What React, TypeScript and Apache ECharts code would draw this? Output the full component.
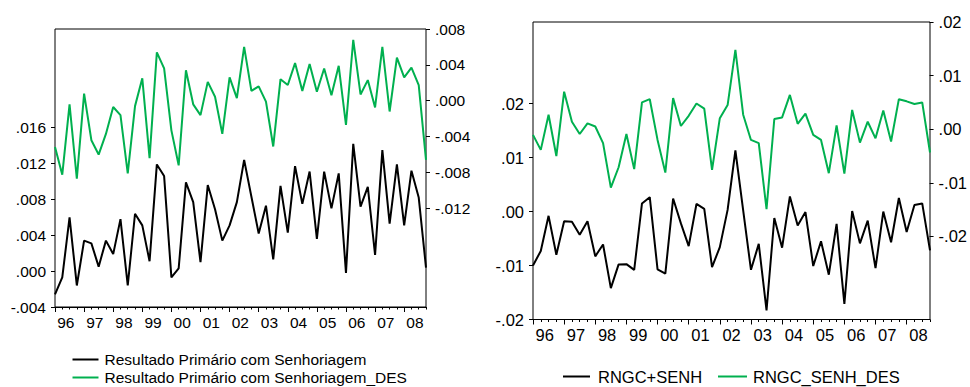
import React, { useEffect, useRef } from "react";
import * as echarts from "echarts";

// ---------- DATA ----------
const years = ["96", "97", "98", "99", "00", "01", "02", "03", "04", "05", "06", "07", "08"];
const quarterNames = ["Q1", "Q2", "Q3", "Q4"];
const quarters = years.flatMap((y) => quarterNames.map((q) => y + q));

const seriesLeftA = "Resultado Primário com Senhoriagem";
const seriesLeftB = "Resultado Primário com Senhoriagem_DES";
const seriesRightA = "RNGC+SENH";
const seriesRightB = "RNGC_SENH_DES";

const resultadoPrimario = [
  -0.0026, -0.0007, 0.006, -0.0016, 0.0034, 0.0031, 0.0005, 0.0034, 0.0019, 0.0058,
  -0.0016, 0.0064, 0.0051, 0.0011, 0.0119, 0.0106, -0.0007, 0.0003, 0.0099, 0.0077,
  0.001, 0.0096, 0.0069, 0.0034, 0.0051, 0.0077, 0.0124, 0.0083, 0.0042, 0.0073,
  0.0013, 0.0095, 0.0043, 0.0117, 0.0075, 0.0111, 0.0036, 0.0111, 0.007, 0.0109,
  -0.0002, 0.0142, 0.0072, 0.0094, 0.0018, 0.0135, 0.0053, 0.0119, 0.0051, 0.0112,
  0.0082, 0.0004,
];

const resultadoPrimarioDes = [
  -0.00515, -0.00825, -0.0004, -0.0087, 0.0008, -0.0044, -0.006, -0.0037, -0.0007, -0.0016,
  -0.0081, -0.0006, 0.0025, -0.0064, 0.0054, 0.0036, -0.0033, -0.0072, 0.0034, -0.0004,
  -0.0016, 0.0021, 0.00045, -0.0037, 0.0026, 0.0003, 0.006, 0.0011, 0.0016, -0.0001,
  -0.0051, 0.0024, 0.00175, 0.0042, 0.0011, 0.0041, 0.001, 0.0036, 0.0006, 0.0039,
  -0.0027, 0.0068, 0.0007, 0.0023, -0.00075, 0.006, -0.0012, 0.0048, 0.0026, 0.0037,
  0.00175, -0.0066,
];

const rngcSenh = [
  -0.01, -0.0073, -0.0008, -0.008, -0.0018, -0.0019, -0.0043, -0.0018, -0.0083, -0.0061,
  -0.0142, -0.0098, -0.00975, -0.0108, 0.0015, 0.00265, -0.0107, -0.0115, 0.0024, -0.0022,
  -0.0064, 0.0014, 0.0005, -0.0103, -0.0066, 0.0003, 0.0113, 0.0002, -0.0108, -0.006,
  -0.0183, -0.0012, -0.0067, 0.0028, -0.0026, -0.0001, -0.0101, -0.0055, -0.0117, -0.0023,
  -0.0171, 0.0001, -0.0059, -0.0017, -0.0105, 0.0, -0.0057, 0.0025, -0.0038, 0.0012,
  0.0015, -0.0072,
];

const rngcSenhDes = [
  -0.00105, -0.00385, 0.0027, -0.005, 0.007, 0.0014, -0.0009, 0.0011, 0.0005, -0.0026,
  -0.0109, -0.0071, -0.0009, -0.00745, 0.005, 0.0056, -0.002, -0.0081, 0.0058, 0.0006,
  0.0025, 0.0048, 0.00385, -0.0076, 0.00205, 0.0045, 0.0148, 0.0027, -0.002, -0.0026,
  -0.0149, 0.0019, 0.0022, 0.0064, 0.001, 0.0029, -0.00105, -0.002, -0.0082, 0.0007,
  -0.0083, 0.0036, -0.0025, 0.0014, -0.0017, 0.0035, -0.0023, 0.0056, 0.0052, 0.0047,
  0.005, -0.00435,
];

// axis ranges & labelled tick ranges
const leftPanelLeftRange = [-0.004, 0.027];
const leftPanelRightRange = [-0.023, 0.008];
const leftPanelLeftTicks = { min: -0.004, max: 0.016, step: 0.004 };
const leftPanelRightTicks = { min: -0.012, max: 0.008, step: 0.004 };

const rightPanelLeftRange = [-0.02, 0.0351];
const rightPanelRightRange = [-0.0355, 0.02];
const rightPanelLeftTicks = { min: -0.02, max: 0.02, step: 0.01 };
const rightPanelRightTicks = { min: -0.02, max: 0.02, step: 0.01 };

// ---------- STYLE ----------
const FONT = '"Liberation Sans", Arial, Helvetica, sans-serif';
const BLACK = "#000000";
const GREEN = "#00b04f";
const boxL = { left: 55, top: 29, width: 371, height: 278 };
const boxR = { left: 533, top: 22, width: 397, height: 297.5 };
const FS_LEFT = 15.5;
const FS_RIGHT = 16.5;

function fmt(decimals: number) {
  return (v: number) => {
    const s = Number(v).toFixed(decimals);
    return s.replace(/^(-?)0\./, "$1.");
  };
}

function labelGrid(box: any, range: number[], t: any) {
  const span = range[1] - range[0];
  const top = box.top + ((range[1] - t.max) / span) * box.height;
  const height = ((t.max - t.min) / span) * box.height;
  return { left: box.left, width: box.width, top, height, show: false };
}

export default function App() {
  const ref = useRef<HTMLDivElement>(null);

  useEffect(() => {
    if (!ref.current) return;
    const chart = echarts.init(ref.current, undefined, { renderer: "svg" });

    const mainX = (gridIndex: number, labelPad: number, fs: number) => ({
      type: "category",
      gridIndex,
      data: quarters,
      boundaryGap: false,
      position: "bottom",
      axisLine: { show: true, onZero: false, lineStyle: { color: BLACK, width: 1 } },
      axisTick: { show: true, interval: 0, length: 2.5, lineStyle: { color: BLACK, width: 1 } },
      axisLabel: {
        show: true,
        interval: (i: number) => i % 4 === 1,
        formatter: (v: string) => v.slice(0, 2),
        color: BLACK,
        fontSize: fs,
        fontFamily: FONT,
        margin: 7,
        padding: [0, 0, 0, labelPad],
      },
      splitLine: { show: false },
    });
    const majorX = (gridIndex: number) => ({
      type: "category",
      gridIndex,
      data: quarters,
      boundaryGap: false,
      position: "bottom",
      axisLine: { show: false, onZero: false },
      axisTick: { show: true, interval: (i: number) => i % 4 === 0, length: 5, lineStyle: { color: BLACK, width: 1 } },
      axisLabel: { show: false },
      splitLine: { show: false },
    });
    const hiddenX = (gridIndex: number) => ({ type: "value", gridIndex, show: false, min: 0, max: 1 });
    const hiddenY = (gridIndex: number, range: number[]) => ({
      type: "value",
      gridIndex,
      show: false,
      min: range[0],
      max: range[1],
      splitLine: { show: false },
    });
    const labelY = (gridIndex: number, position: string, t: any, decimals: number, fs: number) => ({
      type: "value",
      gridIndex,
      position,
      min: t.min,
      max: t.max,
      interval: t.step,
      axisLine: { show: false, onZero: false },
      axisTick: { show: true, length: 4, lineStyle: { color: BLACK, width: 1 } },
      axisLabel: { color: BLACK, fontSize: fs, fontFamily: FONT, margin: 9, formatter: fmt(decimals) },
      splitLine: { show: false },
    });

    const line = (name: string, data: number[], color: string, xAxisIndex: number, yAxisIndex: number) => ({
      type: "line",
      name,
      data,
      xAxisIndex,
      yAxisIndex,
      symbol: "none",
      showSymbol: false,
      color,
      lineStyle: { color, width: 2 },
      emphasis: { disabled: true },
    });

    const legendItem = (name: string, left: number, top: number, itemWidth: number, fs: number, textPad: number) => ({
      data: [name],
      orient: "horizontal",
      left,
      top,
      padding: 0,
      icon: "rect",
      itemWidth,
      itemHeight: 2,
      selectedMode: false,
      textStyle: { color: BLACK, fontSize: fs, fontFamily: FONT, padding: [0, 0, 0, textPad] },
    });

    chart.setOption({
      animation: false,
      textStyle: { fontFamily: FONT },
      grid: [
        { ...boxL, show: true, borderColor: BLACK, borderWidth: 1, backgroundColor: "transparent" },
        { ...boxR, show: true, borderColor: BLACK, borderWidth: 1, backgroundColor: "transparent" },
        labelGrid(boxL, leftPanelLeftRange, leftPanelLeftTicks),
        labelGrid(boxL, leftPanelRightRange, leftPanelRightTicks),
        labelGrid(boxR, rightPanelLeftRange, rightPanelLeftTicks),
        labelGrid(boxR, rightPanelRightRange, rightPanelRightTicks),
      ],
      xAxis: [
        mainX(0, 7, FS_LEFT),
        majorX(0),
        mainX(1, 8, FS_RIGHT),
        majorX(1),
        hiddenX(2),
        hiddenX(3),
        hiddenX(4),
        hiddenX(5),
      ],
      yAxis: [
        hiddenY(0, leftPanelLeftRange),
        hiddenY(0, leftPanelRightRange),
        hiddenY(1, rightPanelLeftRange),
        hiddenY(1, rightPanelRightRange),
        labelY(2, "left", leftPanelLeftTicks, 3, FS_LEFT),
        labelY(3, "right", leftPanelRightTicks, 3, FS_LEFT),
        labelY(4, "left", rightPanelLeftTicks, 2, FS_RIGHT),
        labelY(5, "right", rightPanelRightTicks, 2, FS_RIGHT),
      ],
      legend: [
        legendItem(seriesLeftA, 72.5, 351.5, 26, FS_LEFT, 1),
        legendItem(seriesLeftB, 72.5, 369.5, 26, FS_LEFT, 1),
        legendItem(seriesRightA, 563, 368, 27, FS_RIGHT, 3),
        legendItem(seriesRightB, 718, 368, 29, FS_RIGHT, 1),
      ],
      series: [
        line(seriesLeftA, resultadoPrimario, BLACK, 0, 0),
        line(seriesLeftB, resultadoPrimarioDes, GREEN, 0, 1),
        line(seriesRightA, rngcSenh, BLACK, 2, 2),
        line(seriesRightB, rngcSenhDes, GREEN, 2, 3),
      ],
    });

    return () => chart.dispose();
  }, []);

  return (
    <div
      ref={ref}
      style={{ position: "fixed", left: 0, top: 0, width: 970, height: 387, background: "#ffffff" }}
    />
  );
}
